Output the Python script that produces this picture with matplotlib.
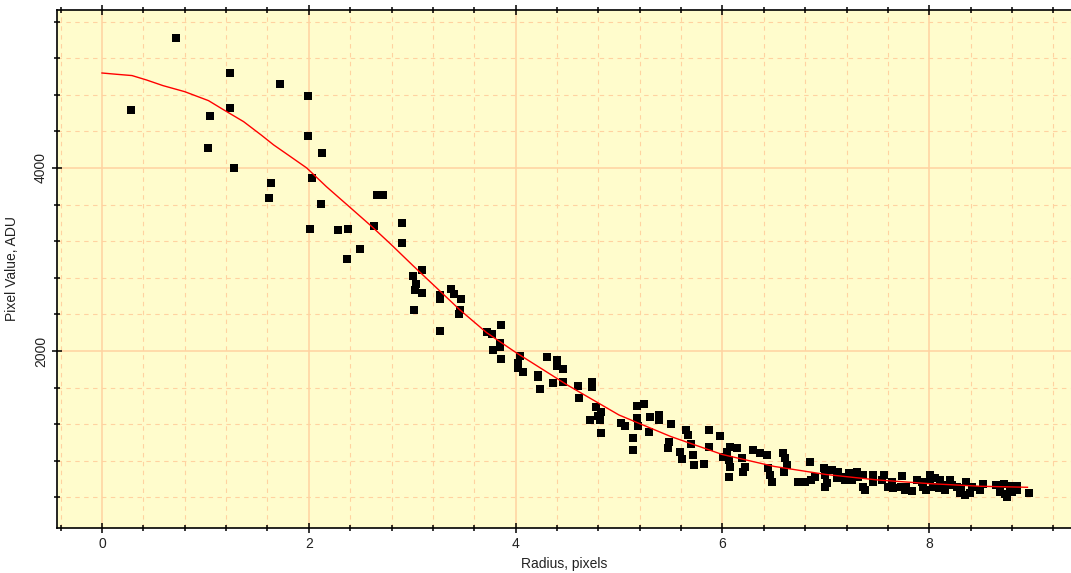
import numpy as np
import matplotlib
matplotlib.use("Agg")
import matplotlib.pyplot as plt
from matplotlib.ticker import MultipleLocator

# measured points (radius in pixels, pixel value in ADU)
radius = [0.28, 0.72, 1.24, 1.24, 1.04, 1.03, 1.28, 1.72, 1.99, 1.99,
          2.13, 1.63, 1.62, 2.03, 2.12, 2.01, 2.28, 2.38, 2.66, 2.72,
          2.63, 2.50, 2.37, 2.90, 2.90, 3.09, 3.01, 3.04, 3.03, 3.09,
          3.02, 3.27, 3.27, 3.38, 3.40, 3.47, 3.46, 3.45, 3.27, 3.72,
          3.77, 3.86, 3.85, 3.85, 3.78, 3.86, 4.04, 4.02, 4.02, 4.07,
          4.22, 4.22, 4.24, 4.30, 4.40, 4.40, 4.46, 4.36, 4.46, 4.60,
          4.61, 4.74, 4.74, 4.78, 4.83, 4.80, 4.72, 4.82, 4.83, 5.02,
          5.06, 5.17, 5.24, 5.17, 5.18, 5.30, 5.39, 5.39, 5.29, 5.14,
          5.14, 5.50, 5.48, 5.47, 5.59, 5.61, 5.65, 5.67, 5.70, 5.72,
          5.73, 5.82, 5.87, 5.87, 5.98, 6.07, 6.14, 6.04, 6.01, 6.06,
          6.07, 6.06, 6.19, 6.22, 6.20, 6.30, 6.36, 6.43, 6.44, 6.46,
          6.48, 6.59, 6.61, 6.62, 6.60, 6.85, 6.73, 6.80, 6.86, 6.90,
          6.98, 6.99, 7.01, 6.99, 7.06, 7.12, 7.11, 7.15, 7.19, 7.22,
          7.25, 7.30, 7.31, 7.36, 7.36, 7.38, 7.46, 7.46, 7.56, 7.54,
          7.60, 7.64, 7.65, 7.74, 7.73, 7.77, 7.78, 7.83, 7.88, 7.93,
          7.94, 7.97, 8.01, 8.01, 8.06, 8.10, 8.04, 8.09, 8.14, 8.15,
          8.20, 8.22, 8.27, 8.31, 8.30, 8.35, 8.39, 8.36, 8.41, 8.52,
          8.49, 8.65, 8.72, 8.78, 8.85, 8.68, 8.73, 8.80, 8.85, 8.75,
          8.96]
pixel_value = [4634, 5418, 5039, 4653, 4569, 4219, 4000, 4919, 4787, 4350,
               4168, 3833, 3669, 3886, 3604, 3334, 3319, 3334, 3705, 3705,
               3366, 3112, 3002, 3403, 3184, 2886, 2815, 2736, 2667, 2631,
               2448, 2612, 2565, 2678, 2618, 2569, 2448, 2402, 2217, 2202,
               2183, 2283, 2091, 2047, 2015, 1913, 1946, 1866, 1811, 1768,
               1738, 1711, 1583, 1931, 1902, 1836, 1800, 1654, 1665, 1618,
               1484, 1659, 1607, 1391, 1337, 1290, 1250, 1241, 1101, 1210,
               1180, 1399, 1418, 1265, 1177, 1282, 1301, 1250, 1118, 1046,
               918, 1202, 1009, 937, 891, 816, 1137, 1082, 987, 863,
               749, 765, 1133, 951, 1068, 954, 937, 900, 838, 809,
               736, 626, 827, 736, 681, 918, 882, 863, 718, 645,
               572, 882, 827, 754, 681, 790, 572, 565, 590, 626,
               718, 645, 554, 517, 700, 681, 609, 626, 590, 663,
               590, 681, 626, 645, 517, 481, 645, 572, 645, 590,
               517, 572, 500, 637, 517, 481, 517, 470, 590, 572,
               517, 481, 645, 590, 609, 590, 517, 500, 536, 481,
               590, 536, 517, 500, 445, 426, 445, 572, 517, 543,
               481, 536, 543, 528, 528, 462, 434, 462, 481, 408,
               445]

# fitted profile
fit_radius = [0.0, 0.14, 0.29, 0.43, 0.59, 0.80, 1.03, 1.17, 1.37, 1.54,
              1.66, 1.79, 1.98, 2.17, 2.30, 2.38, 2.61, 2.79, 3.01, 3.24,
              3.46, 3.72, 4.0, 4.5, 5.0, 5.5, 6.0, 6.5, 7.0, 7.5,
              8.0, 8.5, 8.95]
fit_value = [5038, 5024, 5010, 4962, 4900, 4834, 4736, 4640, 4506, 4360,
             4252, 4150, 4000, 3796, 3667, 3588, 3359, 3170, 2930, 2685,
             2450, 2200, 1985, 1628, 1300, 1065, 868, 738, 650, 590,
             550, 521, 510]

fig = plt.figure(figsize=(10.71, 5.73), dpi=100)
ax = fig.add_axes([57 / 1071, 45 / 573, 1014 / 1071, 518.5 / 573])
ax.set_facecolor("#FFFCCC")

ax.plot(radius, pixel_value, "s", color="black", markersize=6.0,
        markeredgewidth=0, zorder=3)
ax.plot(fit_radius, fit_value, "-", color="#FF0000", linewidth=1.0, zorder=4)

ax.set_xlim(-0.435, 9.371)
ax.set_ylim(65, 5732)

ax.xaxis.set_major_locator(MultipleLocator(2))
ax.xaxis.set_minor_locator(MultipleLocator(0.4))
ax.yaxis.set_major_locator(MultipleLocator(2000))
ax.yaxis.set_minor_locator(MultipleLocator(400))

ax.set_axisbelow(True)
ax.grid(which="major", color="#FFD2A0", linewidth=1.1, linestyle="-")
ax.grid(which="minor", color="#FFD2A0", linewidth=0.8, linestyle=(0, (4, 4)))

for s in ["left", "bottom", "top"]:
    ax.spines[s].set_linewidth(1.2)
    ax.spines[s].set_color("black")
ax.spines["right"].set_visible(False)

ax.tick_params(which="both", direction="inout", top=True, right=False,
               width=1.1, color="black", labelsize=10, labelcolor="#222222")
ax.tick_params(which="major", length=6.8, pad=3)
ax.tick_params(which="minor", length=5.0)
for lbl in ax.get_yticklabels():
    lbl.set_rotation(90)
    lbl.set_va("center")

ax.set_xlabel("Radius, pixels", fontsize=10, color="#222222")
ax.set_ylabel("Pixel Value, ADU", fontsize=10, color="#222222")
ax.xaxis.set_label_coords(0.5, -0.055)
ax.yaxis.set_label_coords(-0.037, 0.5)

for t in ax.get_xticklabels() + ax.get_yticklabels():
    t.set_family("Liberation Sans")
ax.xaxis.label.set_family("Liberation Sans")
ax.yaxis.label.set_family("Liberation Sans")

fig.savefig("out.png", dpi=100)
